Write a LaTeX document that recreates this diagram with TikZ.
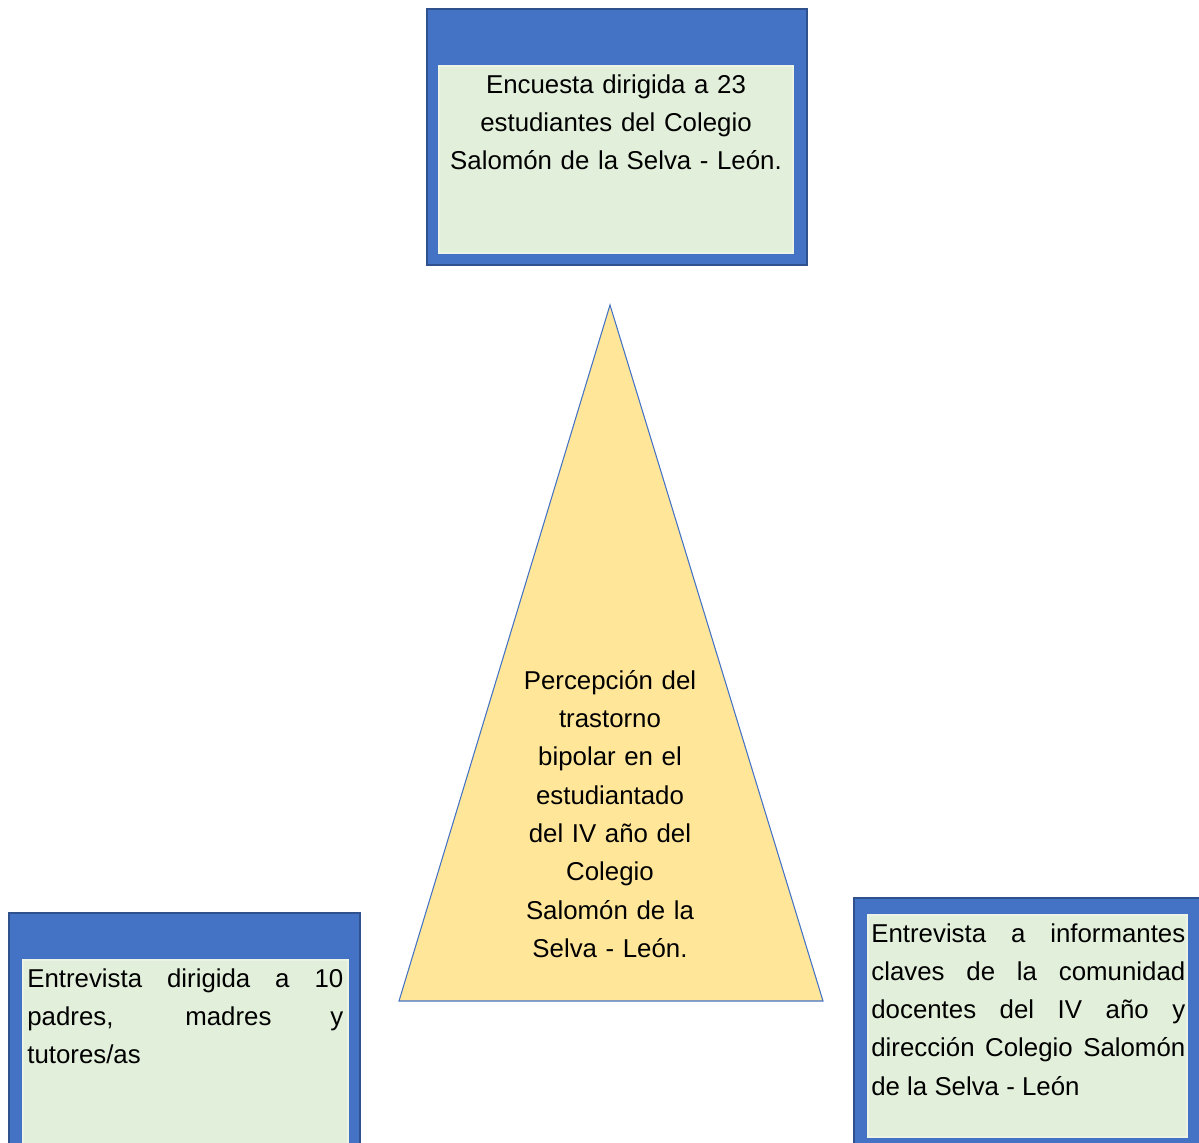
\documentclass[tikz,border=0pt]{standalone}
\usepackage{fontspec}
\setmainfont{Liberation Sans}
\usetikzlibrary{fit}
\definecolor{boxblue}{HTML}{4472C4}
\definecolor{boxedge}{HTML}{2F528F}
\definecolor{boxgreen}{HTML}{E2EFDA}
\definecolor{triyellow}{HTML}{FFE699}
\tolerance=9999 \hbadness=10000 \hyphenpenalty=10000
\tikzset{
  outbox/.style={rectangle,draw=boxedge,line width=0.6pt,fill=boxblue,inner sep=0pt},
  inbox/.style={rectangle,draw=boxgreen!70!white,line width=0.6pt,fill=boxgreen,inner sep=0pt},
  txt/.style={inner sep=0pt,anchor=north,font=\fontsize{14.7}{21.8}\selectfont},
  tri/.style={draw=boxblue,line width=0.6pt,fill=triyellow}
}

\begin{document}
\begin{tikzpicture}[x=0.02cm,y=-0.02cm]
\useasboundingbox (0,0) rectangle (1199,1142);
\clip (0,0) rectangle (1199,1142);
% triangulo central
\coordinate (apex) at (610,305);
\coordinate (bl) at (399,1001);
\coordinate (br) at (823,1001);
\draw[tri] (apex) -- (br) -- (bl) -- cycle;
\node[txt,text width=3.8cm,align=center] (percep) at (610,670)
  {Percepción del\\ trastorno\\ bipolar en el\\ estudiantado\\ del IV año del\\ Colegio\\ Salomón de la\\ Selva - León.};
% encuesta estudiantes
\node[outbox,fit={(427,9) (807,265)}] (encout) {};
\node[inbox,fit={(439,66) (793,253)}] (encin) {};
\node[txt,text width=7cm,align=center] (enc) at (616,74)
  {Encuesta dirigida a 23\\ estudiantes del Colegio\\ Salomón de la Selva - León.};
% entrevista padres
\node[outbox,fit={(9,913) (360,1160)}] (padout) {};
\node[inbox,fit={(23,960) (348,1160)}] (padin) {};
\node[txt,anchor=north west,text width=6.32cm,align=justify] (pad) at (27,968)
  {Entrevista dirigida a 10\linebreak padres, madres y\linebreak tutores/as};
% entrevista informantes
\node[outbox,fit={(854,898) (1210,1160)}] (infout) {};
\node[inbox,fit={(868,915) (1187,1137)}] (infin) {};
\node[txt,anchor=north west,text width=6.28cm,align=justify] (inf) at (871,923)
  {Entrevista a informantes\linebreak claves de la comunidad\linebreak docentes del IV año y\linebreak dirección Colegio Salomón\linebreak de la Selva - León};
\end{tikzpicture}
\end{document}
